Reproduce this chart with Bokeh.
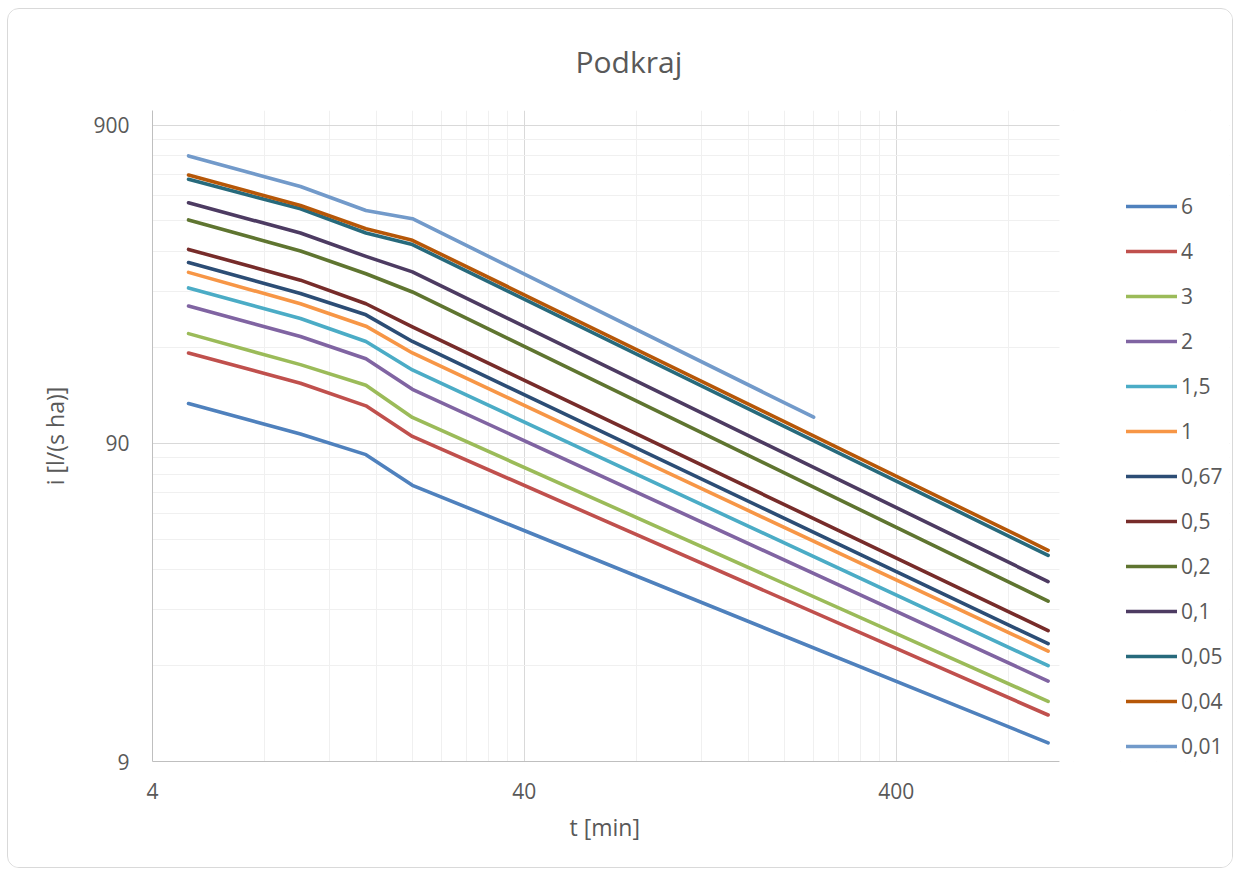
from bokeh.plotting import figure
from bokeh.models import FixedTicker, Legend, LegendItem, Range1d, Title, BoxAnnotation
from bokeh.embed import file_html
from bokeh.resources import INLINE

title_text = "Podkraj"
x_title = "t [min]"
y_title = "i [l/(s ha)]"

x_major = [4, 40, 400]
y_major = [9, 90, 900]
x_tick_labels = ["4", "40", "400"]
y_tick_labels = ["9", "90", "900"]
x_min, x_max = 4, 1100
y_min, y_max = 9, 1000

# durations (min)
t_main = [5, 10, 15, 20, 1025]
t_short = [5, 10, 15, 20, 240]

series_labels = ["6", "4", "3", "2", "1,5", "1", "0,67", "0,5", "0,2", "0,1", "0,05", "0,04", "0,01"]
i_6 = [120, 96.2, 82.9, 66.4, 10.3]
i_4 = [173, 139, 118, 94.6, 12.6]
i_3 = [199, 159, 137, 108.5, 13.9]
i_2 = [243, 195, 166, 133, 16.1]
i_1_5 = [277, 222, 188, 153, 18.0]
i_1 = [310, 247, 210, 173, 20.0]
i_0_67 = [333, 266, 228, 188, 21.1]
i_0_5 = [366, 293, 247, 209, 23.2]
i_0_2 = [453, 362, 307, 269, 28.7]
i_0_1 = [513, 412, 348, 311, 33.1]
i_0_05 = [608, 491, 412, 379, 40.0]
i_0_04 = [627, 503, 425, 391, 41.5]
i_0_01 = [720, 577, 485, 457, 108.7]

series_values = [i_6, i_4, i_3, i_2, i_1_5, i_1, i_0_67, i_0_5, i_0_2, i_0_1, i_0_05, i_0_04, i_0_01]
series_t = [t_main] * 12 + [t_short]
colors = ["#4F81BD", "#C0504D", "#9BBB59", "#8064A2", "#4BACC6", "#F79646", "#2C4D75",
          "#772C2A", "#5F7530", "#4D3B62", "#276A7C", "#B65708", "#729ACA"]

FONT = "Open Sans"
GREY = "#595959"

# layout (pixels)
W, H = 1226, 860
ML, MR, MT, MB = 144, 5, 100, 108
PLOT_W = 907  # width of the data area (x_min..x_max)
frame_w = W - ML - MR
x_end = x_min * (x_max / x_min) ** (frame_w / PLOT_W)  # extra room on the right for the legend

p = figure(width=W, height=H, x_axis_type="log", y_axis_type="log",
           x_range=Range1d(x_min, x_end), y_range=Range1d(y_min, y_max),
           output_backend="svg", toolbar_location=None,
           min_border_left=ML, min_border_right=MR, min_border_top=MT, min_border_bottom=MB)
p.styles = {"border": "1px solid #d9d9d9", "border-radius": "12px", "overflow": "hidden",
            "margin-left": "7px", "margin-top": "8px"}
p.background_fill_color = "white"
p.border_fill_color = "white"
p.outline_line_color = None

p.title.text = title_text
p.title.align = "left"
p.title.offset = 423
p.title.standoff = 58
p.title.text_font = FONT
p.title.text_font_size = "30px"
p.title.text_font_style = "normal"
p.title.text_color = GREY

x_minor = [k * m for m in x_major for k in range(2, 10)]
y_minor = [k * m for m in y_major for k in range(2, 10)] + [y_max]
xt = FixedTicker(ticks=x_major, minor_ticks=x_minor)
yt = FixedTicker(ticks=y_major, minor_ticks=y_minor)
p.xaxis.ticker = xt
p.yaxis.ticker = yt
p.xgrid.ticker = xt
p.ygrid.ticker = yt
p.xaxis.major_label_overrides = dict(zip(x_major, x_tick_labels))
p.yaxis.major_label_overrides = dict(zip(y_major, y_tick_labels))
p.xaxis.bounds = (x_min, x_max)

for g in (p.xgrid, p.ygrid):
    g.grid_line_color = "#d9d9d9"
    g.grid_line_width = 1
    g.minor_grid_line_color = "#f0f0f0"
    g.minor_grid_line_width = 1

for ax in (p.xaxis, p.yaxis):
    ax.axis_line_color = "#bfbfbf"
    ax.axis_line_width = 1
    ax.major_tick_line_color = None
    ax.minor_tick_line_color = None
    ax.major_tick_out = 0
    ax.major_tick_in = 0
    ax.major_label_text_font = FONT
    ax.major_label_text_font_size = "21px"
    ax.major_label_text_color = GREY
    ax.axis_label_text_font = FONT
    ax.axis_label_text_font_size = "23px"
    ax.axis_label_text_color = GREY
    ax.axis_label_text_font_style = "normal"

p.yaxis.axis_label = y_title
p.xaxis.major_label_standoff = 17
p.yaxis.major_label_standoff = 19
p.yaxis.axis_label_standoff = 19

xt_title = Title(text=x_title, align="left", offset=417, standoff=15,
                 text_font=FONT, text_font_size="23px", text_font_style="normal",
                 text_color=GREY)
p.add_layout(xt_title, "below")

# white mask over the grid to the right of the data area (legend area)
mask = BoxAnnotation(left=x_max, fill_color="white", fill_alpha=1.0, line_color=None)
p.add_layout(mask)

items = []
for lab, t, vals, c in zip(series_labels, series_t, series_values, colors):
    r = p.line(t, vals, line_color=c, line_width=3.6, line_cap="round", line_join="round")
    items.append(LegendItem(label=lab, renderers=[r]))

legend = Legend(items=items, location=(974, 0), orientation="vertical",
                glyph_width=51, glyph_height=30, label_height=30, spacing=15,
                label_standoff=4, padding=0, margin=0,
                border_line_color=None, background_fill_alpha=0,
                label_text_font=FONT, label_text_font_size="21px", label_text_color=GREY)
p.add_layout(legend, "center")

open("out.html", "w").write(file_html(p, INLINE))
